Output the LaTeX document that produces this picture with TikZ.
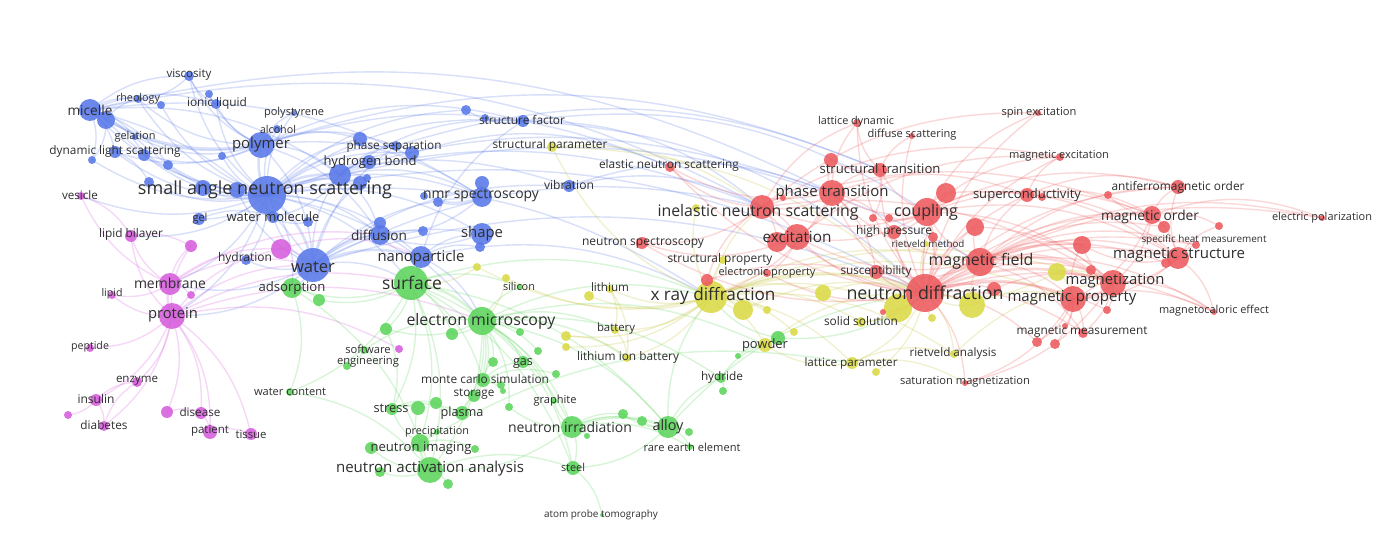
\documentclass[tikz,border=0pt]{standalone}
\usepackage{fontspec}
\setmainfont{Open Sans}
\usepackage{graphicx}
\pgfdeclarelayer{edges}
\pgfsetlayers{edges,main}
\newdimen\pxu \pxu=0.02cm
\definecolor{cB}{RGB}{88,120,232}
\definecolor{cR}{RGB}{236,90,94}
\definecolor{cG}{RGB}{92,212,92}
\definecolor{cY}{RGB}{218,218,70}
\definecolor{cM}{RGB}{214,92,220}
\tikzset{
  bub/.style={circle,inner sep=0pt,draw=none,fill opacity=0.88},
  lab/.style={inner sep=0pt,text=black!82,font=\fontsize{10}{11}\selectfont},
  ebase/.style={opacity=0.24,line width=0.8pt},
  eB/.style={ebase,draw=cB},
  eR/.style={ebase,draw=cR},
  eG/.style={ebase,draw=cG},
  eY/.style={ebase,draw=cY!90!black},
  eM/.style={ebase,draw=cM},
  thk/.style={line width=1.5pt},
  arc/.style={bend left=20},
}
\newcommand\bub[5]{\node[bub,fill=#5,minimum size=#4*0.04cm] (#1) at (#2,#3) {};}
\newcommand\lab[5]{\node[lab] (#1) at (#2,#3) {\resizebox{#4\pxu}{!}{#5}};}
\begin{document}
\begin{tikzpicture}[x=0.02cm,y=-0.02cm]
\useasboundingbox (0,0) rectangle (1389,553);
% ---------- blue cluster
\bub{visc}{189}{76}{5}{cB}
\bub{rheo}{138}{99}{4}{cB}
\bub{b1}{161}{105}{4}{cB}
\bub{ionic}{216}{104}{5}{cB}
\bub{b2}{209}{94}{4}{cB}
\bub{mic}{90}{110}{11}{cB}
\bub{b3}{106}{120}{9}{cB}
\bub{polys}{294}{113}{3}{cB}
\bub{alco}{277}{129}{4}{cB}
\bub{gela}{135}{137}{3}{cB}
\bub{poly}{261}{145}{13}{cB}
\bub{dls}{115}{152}{6}{cB}
\bub{b4}{144}{155}{6}{cB}
\bub{b5}{92}{160}{4}{cB}
\bub{b6}{168}{165}{5}{cB}
\bub{b7}{222}{156}{4}{cB}
\bub{b8}{149}{182}{5}{cB}
\bub{hb}{340}{175}{11}{cB}
\bub{hb2}{369}{162}{7}{cB}
\bub{sans}{267}{195}{19}{cB}
\bub{b9}{203}{188}{8}{cB}
\bub{b10}{237}{190}{8}{cB}
\bub{b11}{466}{110}{5}{cB}
\bub{sf1}{485}{118}{4}{cB}
\bub{sf}{523}{121}{6}{cB}
\bub{ps}{396}{146}{5}{cB}
\bub{b12}{360}{139}{7}{cB}
\bub{b13}{412}{153}{7}{cB}
\bub{b14}{367}{178}{4}{cB}
\bub{b15}{360}{183}{7}{cB}
\bub{vib}{569}{186}{6}{cB}
\bub{nmr}{482}{197}{10}{cB}
\bub{b16}{482}{183}{7}{cB}
\bub{b17}{424}{196}{4}{cB}
\bub{b18}{438}{202}{5}{cB}
\bub{gel}{199}{219}{6}{cB}
\bub{wm}{273}{217}{6}{cB}
\bub{b19}{308}{222}{5}{cB}
\bub{hyd}{246}{260}{5}{cB}
\bub{water}{313}{265}{17}{cB}
\bub{diff}{380}{235}{10}{cB}
\bub{b20}{380}{223}{6}{cB}
\bub{b21}{423}{231}{5}{cB}
\bub{shape}{482}{234}{11}{cB}
\bub{b22}{480}{247}{5}{cB}
\bub{nano}{421}{257}{11}{cB}
% ---------- magenta cluster
\bub{ves}{81}{196}{4}{cM}
\bub{lb}{131}{236}{6}{cM}
\bub{m1}{191}{246}{6}{cM}
\bub{m2}{281}{249}{10}{cM}
\bub{memb}{170}{284}{11}{cM}
\bub{lipid}{112}{295}{4}{cM}
\bub{m3}{191}{295}{4}{cM}
\bub{prot}{172}{316}{13}{cM}
\bub{pep}{90}{348}{4}{cM}
\bub{enz}{137}{382}{5}{cM}
\bub{ins}{96}{400}{6}{cM}
\bub{m4}{68}{415}{4}{cM}
\bub{diab}{104}{426}{5}{cM}
\bub{m5}{167}{412}{6}{cM}
\bub{dis}{201}{413}{6}{cM}
\bub{pat}{210}{432}{7}{cM}
\bub{tis}{251}{434}{6}{cM}
\bub{m6}{399}{349}{4}{cM}
% ---------- green cluster
\bub{ads}{292}{288}{10}{cG}
\bub{g1}{319}{300}{6}{cG}
\bub{surf}{411}{283}{17}{cG}
\bub{sil}{520}{287}{3}{cG}
\bub{em}{482}{321}{14}{cG}
\bub{g2}{386}{329}{6}{cG}
\bub{g3}{452}{334}{6}{cG}
\bub{g4}{520}{332}{4}{cG}
\bub{g5}{538}{351}{4}{cG}
\bub{g6}{493}{362}{5}{cG}
\bub{se}{364}{350}{4}{cG}
\bub{g7}{347}{366}{4}{cG}
\bub{gas}{523}{362}{6}{cG}
\bub{wc}{290}{392}{4}{cG}
\bub{mc}{483}{380}{7}{cG}
\bub{g8}{501}{385}{4}{cG}
\bub{g9}{503}{391}{3}{cG}
\bub{g10}{556}{374}{4}{cG}
\bub{stor}{474}{396}{6}{cG}
\bub{graph}{554}{401}{3}{cG}
\bub{str}{392}{409}{6}{cG}
\bub{g11}{418}{408}{7}{cG}
\bub{g12}{436}{403}{6}{cG}
\bub{plas}{462}{413}{7}{cG}
\bub{g13}{509}{407}{4}{cG}
\bub{ni}{572}{427}{11}{cG}
\bub{g14}{587}{436}{3}{cG}
\bub{g15}{623}{414}{5}{cG}
\bub{g16}{642}{421}{5}{cG}
\bub{alloy}{668}{427}{11}{cG}
\bub{g17}{689}{432}{4}{cG}
\bub{ree}{690}{447}{3}{cG}
\bub{prec}{437}{432}{3}{cG}
\bub{nim}{420}{443}{9}{cG}
\bub{g18}{371}{448}{6}{cG}
\bub{g19}{475}{449}{4}{cG}
\bub{naa}{430}{470}{13}{cG}
\bub{g20}{380}{472}{5}{cG}
\bub{g21}{448}{484}{5}{cG}
\bub{steel}{573}{468}{7}{cG}
\bub{apt}{602}{515}{2}{cG}
\bub{hydr}{721}{378}{5}{cG}
\bub{g22}{723}{391}{4}{cG}
\bub{g23}{778}{338}{7}{cG}
\bub{g24}{738}{356}{3}{cG}
% ---------- yellow cluster
\bub{spar}{552}{147}{5}{cY}
\bub{y1}{696}{208}{4}{cY}
\bub{y2}{477}{267}{4}{cY}
\bub{y3}{506}{278}{4}{cY}
\bub{lith}{610}{289}{4}{cY}
\bub{y4}{589}{296}{5}{cY}
\bub{batt}{615}{330}{4}{cY}
\bub{y5}{566}{336}{5}{cY}
\bub{y6}{566}{347}{4}{cY}
\bub{lib}{627}{358}{4}{cY}
\bub{sprop}{723}{260}{4}{cY}
\bub{xrd}{711}{297}{16}{cY}
\bub{y7}{743}{310}{10}{cY}
\bub{y8}{823}{293}{8}{cY}
\bub{y9}{767}{310}{4}{cY}
\bub{y10}{794}{332}{4}{cY}
\bub{y11}{898}{308}{14}{cY}
\bub{y12}{972}{305}{13}{cY}
\bub{y13}{932}{318}{4}{cY}
\bub{ss}{861}{322}{5}{cY}
\bub{powd}{765}{345}{7}{cY}
\bub{ra}{954}{354}{4}{cY}
\bub{lp}{852}{363}{6}{cY}
\bub{y14}{876}{372}{4}{cY}
\bub{rm}{926}{244}{3}{cY}
\bub{y15}{1057}{272}{9}{cY}
% ---------- red cluster
\bub{ens}{670}{167}{5}{cR}
\bub{nspec}{642}{243}{6}{cR}
\bub{ld}{857}{123}{4}{cR}
\bub{dsc}{912}{136}{3}{cR}
\bub{spin}{1038}{113}{3}{cR}
\bub{mex}{1060}{157}{4}{cR}
\bub{st}{880}{170}{7}{cR}
\bub{r1}{831}{160}{7}{cR}
\bub{pt}{832}{193}{13}{cR}
\bub{coup}{927}{212}{14}{cR}
\bub{r2}{946}{193}{10}{cR}
\bub{sc}{1027}{195}{7}{cR}
\bub{r3}{1042}{197}{4}{cR}
\bub{afm}{1178}{187}{7}{cR}
\bub{r4}{1108}{195}{4}{cR}
\bub{mo}{1152}{215}{9}{cR}
\bub{r5}{1164}{227}{6}{cR}
\bub{r6}{1219}{226}{4}{cR}
\bub{ep}{1322}{218}{3}{cR}
\bub{ine}{762}{207}{12}{cR}
\bub{r7}{783}{198}{3}{cR}
\bub{exc}{797}{237}{13}{cR}
\bub{r8}{777}{242}{10}{cR}
\bub{hp}{894}{232}{7}{cR}
\bub{r9}{873}{218}{4}{cR}
\bub{r10}{889}{218}{4}{cR}
\bub{r11}{933}{237}{5}{cR}
\bub{r12}{975}{227}{9}{cR}
\bub{mf}{980}{262}{14}{cR}
\bub{eprop}{767}{273}{4}{cR}
\bub{sus}{876}{272}{7}{cR}
\bub{r13}{707}{280}{6}{cR}
\bub{nd}{925}{293}{19}{cR}
\bub{r14}{994}{289}{7}{cR}
\bub{r15}{883}{312}{3}{cR}
\bub{shm}{1196}{245}{4}{cR}
\bub{r16}{1082}{245}{9}{cR}
\bub{ms}{1178}{258}{11}{cR}
\bub{r17}{1166}{263}{5}{cR}
\bub{r18}{1091}{270}{5}{cR}
\bub{mag}{1113}{283}{13}{cR}
\bub{mp}{1073}{299}{13}{cR}
\bub{r19}{1107}{310}{4}{cR}
\bub{mce}{1214}{312}{3}{cR}
\bub{mm}{1083}{333}{5}{cR}
\bub{r20}{1065}{326}{3}{cR}
\bub{r21}{1055}{344}{5}{cR}
\bub{r22}{1037}{342}{5}{cR}
\bub{satm}{965}{383}{3}{cR}
% ---------- edges
\begin{pgfonlayer}{edges}
\foreach \a/\b in {sans/water,sans/poly,sans/hb,water/nano,poly/mic}
  \draw[eB,thk] (\a.center) to[arc] (\b.center);
\foreach \a/\b in {sans/mic,sans/b3,sans/dls,sans/b4,sans/visc,sans/ionic,sans/rheo,sans/gela,sans/ps,sans/nmr,sans/diff,sans/shape,sans/nano,sans/wm,sans/gel,sans/hyd,sans/b9,sans/b10,sans/b6,sans/b7,sans/alco,sans/polys,sans/sf,sans/vib,sans/b15,sans/b12,sans/surf,sans/prot,sans/memb,sans/ves,sans/lb,sans/ine,sans/nd,sans/xrd,sans/em,sans/ads,sans/b1,sans/b5,sans/b8,sans/b13,sans/b11,sans/pt,
  poly/dls,poly/ionic,poly/hb,poly/water,poly/visc,poly/rheo,poly/ps,poly/polys,poly/alco,poly/diff,poly/b3,poly/b4,poly/gela,poly/nmr,poly/b2,poly/b12,poly/ens,poly/sf,
  mic/dls,mic/rheo,mic/visc,mic/b3,mic/water,mic/gela,mic/b4,mic/b5,mic/hb,mic/ionic,mic/b6,mic/ine,mic/nmr,
  water/hb,water/diff,water/wm,water/hyd,water/shape,water/nmr,water/b15,water/ps,water/vib,water/b10,water/ine,water/prot,water/memb,water/surf,water/ads,water/b21,water/nd,
  hb/ps,hb/nmr,hb/diff,hb/wm,hb/b14,hb/hb2,hb/b13,hb/mf,hb/sf,
  nano/shape,nano/diff,nano/surf,nano/em,nano/xrd,nano/b22,nano/sf,
  ionic/visc,ionic/b2,dls/b4,dls/b8,b3/b5,b3/rheo,visc/rheo,nmr/b16,nmr/b17,nmr/b18,nmr/diff,shape/b22,shape/diff,sf/sf1,sf/b11,sf/nd,sf/coup,ps/b12,ps/b13,ps/st,vib/ine,vib/pt,gel/wm,diff/b20,b19/wm,sf/ine,b13/ens,mic/pt,poly/st}
  \draw[eB] (\a.center) to[arc] (\b.center);
\foreach \a/\b in {prot/memb}
  \draw[eM,thk] (\a.center) to[arc] (\b.center);
\foreach \a/\b in {prot/lb,prot/pep,prot/enz,prot/ins,prot/diab,prot/dis,prot/pat,prot/tis,prot/m5,prot/m1,prot/m2,prot/lipid,memb/lb,memb/lipid,memb/ves,memb/m1,memb/m2,memb/m3,memb/water,ins/diab,ins/enz,ins/m4,dis/pat,pat/tis,prot/m6,ves/lb,m2/water,prot/surf,lb/m1,m2/nano,memb/diff,prot/water,prot/em,m5/dis,diab/enz}
  \draw[eM] (\a.center) to[arc] (\b.center);
\foreach \a/\b in {surf/em,ni/alloy,naa/nim}
  \draw[eG,thk] (\a.center) to[arc] (\b.center);
\foreach \a/\b in {surf/ads,surf/sil,surf/g2,surf/g3,surf/mc,surf/naa,surf/nim,surf/str,surf/ni,surf/alloy,surf/xrd,surf/g1,surf/wc,em/g3,em/g4,em/g5,em/g6,em/gas,em/mc,em/alloy,em/ni,em/steel,em/stor,em/graph,em/plas,em/g13,em/xrd,em/powd,em/hydr,em/batt,em/lib,em/sil,em/g2,em/naa,ni/steel,ni/g14,ni/g15,ni/g16,ni/ree,ni/graph,ni/naa,ni/g13,alloy/ree,alloy/g17,alloy/hydr,alloy/steel,alloy/g16,alloy/xrd,alloy/nd,alloy/g15,naa/g20,naa/g21,naa/g18,naa/steel,nim/g18,nim/g19,nim/prec,nim/str,nim/g11,nim/lp,str/g11,str/g12,str/plas,mc/gas,mc/stor,mc/g8,mc/g9,mc/g10,mc/g6,plas/stor,plas/g12,ads/g1,ads/wc,ads/naa,se/g7,se/em,hydr/g22,hydr/powd,g23/powd,g24/powd,g23/xrd,nd/g23,steel/apt,wc/naa,surf/steel,g2/str}
  \draw[eG] (\a.center) to[arc] (\b.center);
\foreach \a/\b in {xrd/nd,xrd/y7}
  \draw[eY,thk] (\a.center) to[arc] (\b.center);
\foreach \a/\b in {xrd/y8,xrd/y9,xrd/y10,xrd/sprop,xrd/lith,xrd/batt,xrd/lib,xrd/y4,xrd/y5,xrd/y6,xrd/y2,xrd/y3,xrd/spar,xrd/ss,xrd/powd,xrd/lp,xrd/ra,xrd/y11,xrd/y12,xrd/ine,xrd/y1,xrd/mf,xrd/mag,xrd/mp,y11/nd,y12/nd,y12/mf,y12/mp,y11/ss,y13/nd,nd/ss,nd/lp,nd/ra,nd/rm,nd/y14,lp/ra,lp/powd,lith/batt,lith/lib,batt/lib,y15/mag,y15/mp,y15/nd,y8/nd,spar/nd,spar/ine,y7/nd,powd/nd,y5/lib,y2/surf,y3/em,lp/satm,ra/mag}
  \draw[eY] (\a.center) to[arc] (\b.center);
\foreach \a/\b in {nd/mf,nd/mag,nd/mp,mf/mag,mag/mp,coup/nd}
  \draw[eR,thk] (\a.center) to[arc] (\b.center);
\foreach \a/\b in {nd/ms,nd/mo,nd/pt,nd/exc,nd/ine,nd/st,nd/sus,nd/hp,nd/sc,nd/afm,nd/mm,nd/satm,nd/mce,nd/r14,nd/r12,nd/r2,nd/eprop,nd/nspec,nd/ens,nd/r16,nd/r18,nd/r19,nd/r22,nd/shm,nd/ep,nd/mex,nd/spin,nd/ld,nd/dsc,nd/r15,nd/r11,
  mf/mp,mf/ms,mf/mo,mf/coup,mf/sc,mf/afm,mf/r16,mf/r12,mf/sus,mf/mm,mf/mce,mf/exc,mf/pt,mf/r17,mf/r5,mf/r18,mf/shm,mf/ep,
  coup/pt,coup/exc,coup/ine,coup/mo,coup/ms,coup/sc,coup/r2,coup/mex,coup/spin,coup/st,coup/hp,coup/mag,coup/afm,coup/r9,coup/r10,
  pt/st,pt/ine,pt/exc,pt/r1,pt/ld,pt/hp,pt/sus,pt/sc,pt/xrd,pt/ens,
  ine/exc,ine/r8,ine/nspec,ine/ens,ine/ld,ine/r7,ine/spin,ine/mex,ine/mo,ine/mag,
  mo/afm,mo/ms,mo/mag,mo/mp,mo/r5,mo/r6,mo/r4,mo/ep,
  ms/mag,ms/mp,ms/afm,ms/shm,ms/r17,ms/mce,ms/r16,ms/r6,
  mag/mm,mag/mce,mag/satm,mag/r19,mag/r18,mag/r16,
  mp/mm,mp/r20,mp/r21,mp/r22,mp/satm,mp/mce,mp/r16,
  sc/mex,sc/afm,sc/r3,sc/mo,sc/ms,st/r1,st/ld,st/dsc,st/r9,
  exc/r8,exc/eprop,exc/mex,exc/nspec,r13/nd,r13/xrd,r13/ine,r12/mag,r14/mag,r2/ms}
  \draw[eR] (\a.center) to[arc] (\b.center);
\end{pgfonlayer}
% ---------- labels
\lab{visc-t}{189}{75}{45}{viscosity}
\lab{rheo-t}{138}{99}{44}{rheology}
\lab{ionic-t}{217}{103}{60}{ionic liquid}
\lab{mic-t}{90}{110}{45}{micelle}
\lab{polys-t}{294}{113}{60}{polystyrene}
\lab{alco-t}{278}{129}{36}{alcohol}
\lab{gela-t}{135}{137}{41}{gelation}
\lab{poly-t}{261}{145}{58}{polymer}
\lab{dls-t}{115}{151}{131}{dynamic light scattering}
\lab{hb-t}{370}{162}{93}{hydrogen bond}
\lab{sans-t}{265}{190}{254}{small angle neutron scattering}
\lab{sf-t}{522}{120}{86}{structure factor}
\lab{ps-t}{394}{146}{95}{phase separation}
\lab{vib-t}{569}{185}{50}{vibration}
\lab{nmr-t}{481}{196}{116}{nmr spectroscopy}
\lab{gel-t}{200}{219}{15}{gel}
\lab{wm-t}{273}{217}{93}{water molecule}
\lab{hyd-t}{245}{258}{54}{hydration}
\lab{water-t}{313}{267}{44}{water}
\lab{diff-t}{379}{235}{56}{diffusion}
\lab{shape-t}{482}{234}{42}{shape}
\lab{nano-t}{421}{258}{87}{nanoparticle}
\lab{ves-t}{80}{195}{36}{vesicle}
\lab{lb-t}{131}{234}{64}{lipid bilayer}
\lab{memb-t}{170}{283}{72}{membrane}
\lab{lipid-t}{112}{294}{21}{lipid}
\lab{prot-t}{173}{315}{50}{protein}
\lab{pep-t}{90}{347}{38}{peptide}
\lab{enz-t}{137}{381}{42}{enzyme}
\lab{ins-t}{96}{399}{37}{insulin}
\lab{diab-t}{104}{425}{47}{diabetes}
\lab{dis-t}{200}{412}{41}{disease}
\lab{pat-t}{210}{431}{38}{patient}
\lab{tis-t}{251}{434}{31}{tissue}
\lab{ads-t}{292}{288}{67}{adsorption}
\lab{surf-t}{412}{283}{60}{surface}
\lab{sil-t}{519}{286}{32}{silicon}
\lab{em-t}{481}{321}{149}{electron microscopy}
\lab{se-t}{368}{356}{62}{\shortstack{software\\engineering}}
\lab{gas-t}{523}{364}{20}{gas}
\lab{wc-t}{290}{392}{72}{water content}
\lab{mc-t}{485}{379}{128}{monte carlo simulation}
\lab{stor-t}{474}{394}{41}{storage}
\lab{graph-t}{555}{401}{43}{graphite}
\lab{str-t}{391}{408}{35}{stress}
\lab{plas-t}{462}{413}{43}{plasma}
\lab{ni-t}{570}{427}{124}{neutron irradiation}
\lab{alloy-t}{668}{427}{31}{alloy}
\lab{ree-t}{692}{447}{97}{rare earth element}
\lab{prec-t}{437}{432}{64}{precipitation}
\lab{nim-t}{421}{448}{101}{neutron imaging}
\lab{naa-t}{430}{469}{188}{neutron activation analysis}
\lab{steel-t}{573}{467}{24}{steel}
\lab{apt-t}{601}{515}{114}{atom probe tomography}
\lab{hydr-t}{722}{377}{42}{hydride}
\lab{spar-t}{550}{145}{115}{structural parameter}
\lab{lith-t}{610}{287}{38}{lithium}
\lab{batt-t}{616}{329}{38}{battery}
\lab{lib-t}{628}{357}{102}{lithium ion battery}
\lab{sprop-t}{720}{259}{105}{structural property}
\lab{xrd-t}{713}{296}{125}{x ray diffraction}
\lab{ss-t}{861}{321}{74}{solid solution}
\lab{powd-t}{765}{345}{46}{powder}
\lab{ra-t}{953}{353}{87}{rietveld analysis}
\lab{lp-t}{851}{363}{93}{lattice parameter}
\lab{rm-t}{928}{244}{73}{rietveld method}
\lab{ens-t}{669}{165}{140}{elastic neutron scattering}
\lab{nspec-t}{643}{243}{122}{neutron spectroscopy}
\lab{ld-t}{856}{122}{76}{lattice dynamic}
\lab{dsc-t}{912}{135}{89}{diffuse scattering}
\lab{spin-t}{1039}{113}{75}{spin excitation}
\lab{mex-t}{1059}{156}{100}{magnetic excitation}
\lab{st-t}{880}{169}{121}{structural transition}
\lab{pt-t}{832}{193}{113}{phase transition}
\lab{coup-t}{926}{212}{64}{coupling}
\lab{sc-t}{1027}{195}{108}{superconductivity}
\lab{afm-t}{1178}{187}{133}{antiferromagnetic order}
\lab{mo-t}{1150}{217}{98}{magnetic order}
\lab{ep-t}{1322}{218}{100}{electric polarization}
\lab{ine-t}{758}{212}{201}{inelastic neutron scattering}
\lab{exc-t}{797}{237}{69}{excitation}
\lab{hp-t}{894}{231}{76}{high pressure}
\lab{mf-t}{981}{261}{105}{magnetic field}
\lab{eprop-t}{767}{273}{97}{electronic property}
\lab{sus-t}{876}{271}{71}{susceptibility}
\lab{nd-t}{925}{293}{157}{neutron diffraction}
\lab{shm-t}{1204}{240}{125}{specific heat measurement}
\lab{ms-t}{1179}{255}{132}{magnetic structure}
\lab{mag-t}{1115}{281}{99}{magnetization}
\lab{mp-t}{1072}{298}{129}{magnetic property}
\lab{mce-t}{1214}{311}{110}{magnetocaloric effect}
\lab{mm-t}{1082}{332}{131}{magnetic measurement}
\lab{satm-t}{965}{382}{130}{saturation magnetization}
\end{tikzpicture}
\end{document}
